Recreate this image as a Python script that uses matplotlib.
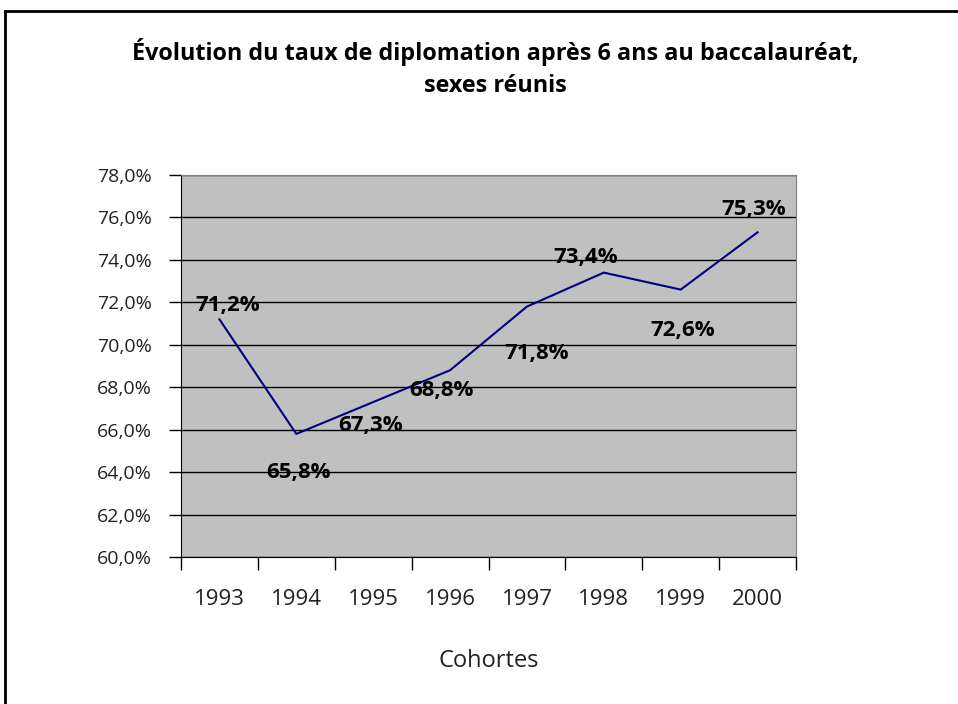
import numpy as np
import matplotlib
matplotlib.use('Agg')
import matplotlib.pyplot as plt
from matplotlib.lines import Line2D

cohortes = ['1993', '1994', '1995', '1996', '1997', '1998', '1999', '2000']
taux = [71.2, 65.8, 67.3, 68.8, 71.8, 73.4, 72.6, 75.3]
y_ticks = [60, 62, 64, 66, 68, 70, 72, 74, 76, 78]

# label offsets in pixels (hand placed like the original)
label_dx = [8, 2, -3, -9, 10, -18, 2, -4]
label_dy = [14, -39, -23, -20, -47, 15, -41, 23]

plt.rcParams['font.family'] = ['Open Sans', 'DejaVu Sans']

fig = plt.figure(figsize=(9.58, 7.04), dpi=100)
W, H = 958, 704
ax = fig.add_axes([181 / W, 1 - 557 / H, (796 - 181) / W, (557 - 175) / H])
ax.set_facecolor('#C0C0C0')

x = np.arange(len(cohortes))
ax.plot(x, taux, color='#000080', linewidth=1.5, zorder=3)

for i, v in enumerate(taux):
    ax.annotate(f'{v:.1f}%'.replace('.', ','), (x[i], v),
                xytext=(label_dx[i], label_dy[i]), textcoords='offset pixels',
                ha='center', va='center', fontsize=16, fontweight='bold', zorder=4)

ax.set_xlim(-0.5, len(cohortes) - 0.5)
ax.set_ylim(60, 78)
ax.set_yticks(y_ticks)
ax.set_yticklabels([f'{t:.1f}%'.replace('.', ',') for t in y_ticks], fontsize=14, color='#222222')
ax.set_xticks(np.arange(-0.5, len(cohortes), 1.0))
ax.set_xticklabels([])
ax.set_xticks(x, minor=True)
ax.set_xticklabels(cohortes, minor=True, fontsize=16, color='#222222')
ax.tick_params(axis='x', which='minor', length=0, pad=23)
ax.tick_params(axis='x', which='major', length=9, width=1, direction='out')
ax.tick_params(axis='y', length=9, width=1, direction='out', pad=12)
ax.grid(axis='y', color='black', linewidth=1)
ax.set_axisbelow(True)
for s in ['top', 'right']:
    ax.spines[s].set_color('#808080')
for s in ['left', 'bottom']:
    ax.spines[s].set_color('black')

ax.set_xlabel('Cohortes', fontsize=17, color='#222222', labelpad=28)

fig.text(495 / W, 1 - 52 / H, 'Évolution du taux de diplomation après 6 ans au baccalauréat,',
         ha='center', va='center', fontsize=16.8, fontweight='bold')
fig.text(495 / W, 1 - 86 / H, 'sexes réunis',
         ha='center', va='center', fontsize=16.8, fontweight='bold')

# outer frame (right and bottom cut off in the original)
fig.add_artist(Line2D([5 / W, 1], [1 - 11 / H, 1 - 11 / H], transform=fig.transFigure, color='black', linewidth=2))
fig.add_artist(Line2D([5 / W, 5 / W], [0, 1 - 11 / H], transform=fig.transFigure, color='black', linewidth=2))

fig.savefig('out.png', dpi=100)
